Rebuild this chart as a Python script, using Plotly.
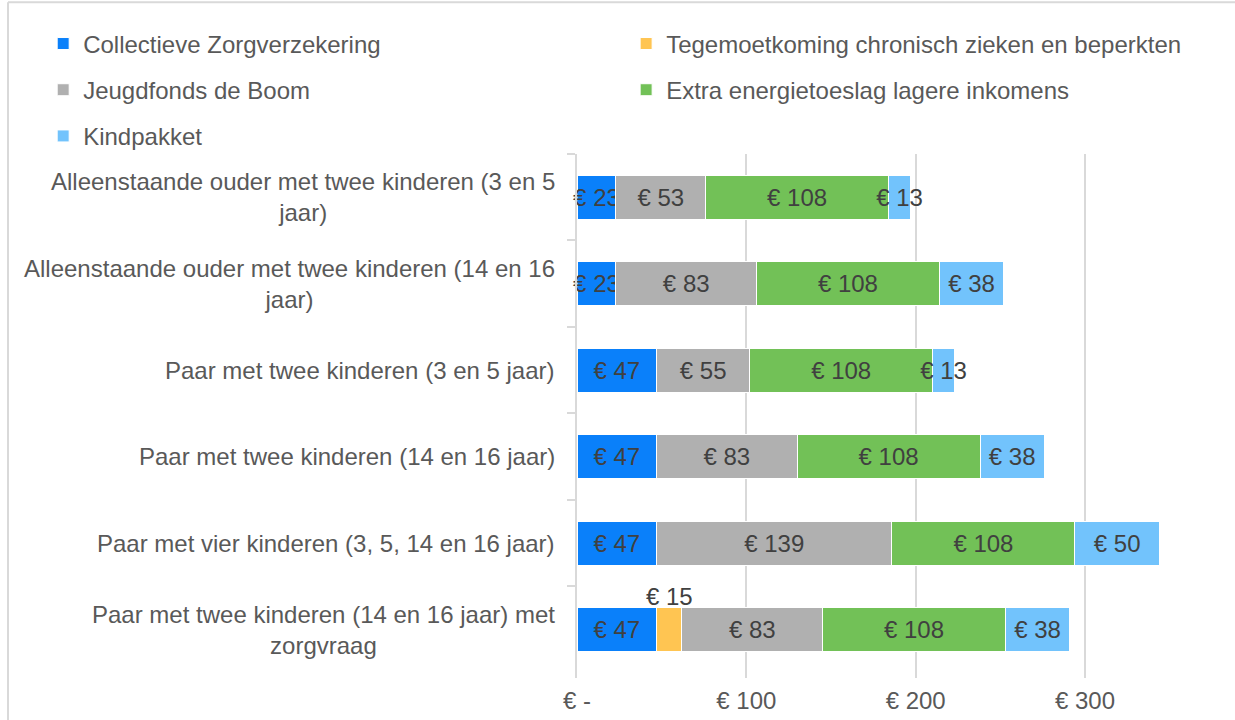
import plotly.graph_objects as go

categorieen = [
    "Alleenstaande ouder met twee kinderen (3 en 5<br>jaar)",
    "Alleenstaande ouder met twee kinderen (14 en 16<br>jaar)",
    "Paar met twee kinderen (3 en 5 jaar)",
    "Paar met twee kinderen (14 en 16 jaar)",
    "Paar met vier kinderen (3, 5, 14 en 16 jaar)",
    "Paar met twee kinderen (14 en 16 jaar) met<br>zorgvraag",
]
collectief = [23, 23, 47, 47, 47, 47]
tegemoetkoming = [None, None, None, None, None, 15]
jeugdfonds = [53, 83, 55, 83, 139, 83]
energietoeslag = [108, 108, 108, 108, 108, 108]
kindpakket = [13, 38, 13, 38, 50, 38]

tick_waarden = [0, 100, 200, 300]
tick_teksten = ["€ -", "€ 100", "€ 200", "€ 300"]

FONT = "Liberation Sans, Arial, sans-serif"
FS = 24

series = [
    ("Collectieve Zorgverzekering", collectief, "#0A80FA", "legend"),
    ("Tegemoetkoming chronisch zieken en beperkten", tegemoetkoming, "#FFC552", "legend2"),
    ("Jeugdfonds de Boom", jeugdfonds, "#B0B0B0", "legend"),
    ("Extra energietoeslag lagere inkomens", energietoeslag, "#72C157", "legend2"),
    ("Kindpakket", kindpakket, "#72C3FC", "legend"),
]

fig = go.Figure()
for naam, waarden, kleur, leg in series:
    toon_tekst = naam != "Tegemoetkoming chronisch zieken en beperkten"
    fig.add_trace(
        go.Bar(
            y=categorieen,
            x=waarden,
            name=naam,
            orientation="h",
            marker=dict(color=kleur, line=dict(color="white", width=1)),
            texttemplate="€ %{x}" if toon_tekst else "",
            textposition="inside",
            textangle=0,
            insidetextanchor="middle",
            constraintext="none",
            insidetextfont=dict(family=FONT, size=FS, color="#404040"),
            legend=leg,
            legendgroup=naam,
            cliponaxis=False,
        )
    )

# label of the yellow segment sits above the bar
for cat, c, t in zip(categorieen, collectief, tegemoetkoming):
    if t:
        fig.add_annotation(
            x=c + t / 2, y=cat, text=f"€ {t}", showarrow=False,
            yshift=33, font=dict(family=FONT, size=FS, color="#404040"),
        )

# category labels, centred lines, right anchored
for cat in categorieen:
    fig.add_annotation(
        x=0, y=cat, xref="paper", text=cat, showarrow=False,
        xanchor="right", align="center", xshift=-20,
        font=dict(family=FONT, size=FS, color="#595959"),
    )

fig.update_layout(
    width=1235,
    height=720,
    margin=dict(l=577, r=3, t=154, b=42),
    barmode="stack",
    bargap=0.49,
    plot_bgcolor="white",
    paper_bgcolor="white",
    font=dict(family=FONT, size=FS, color="#595959"),
    legend=dict(
        orientation="v", x=-0.815, xanchor="left", y=1.253, yanchor="top",
        tracegroupgap=12, font=dict(family=FONT, size=FS, color="#595959"),
        bgcolor="rgba(0,0,0,0)",
    ),
    legend2=dict(
        orientation="v", x=0.075, xanchor="left", y=1.253, yanchor="top",
        tracegroupgap=12, font=dict(family=FONT, size=FS, color="#595959"),
        bgcolor="rgba(0,0,0,0)",
    ),
    xaxis=dict(
        range=[0, 386.8],
        tickvals=tick_waarden,
        ticktext=tick_teksten,
        showgrid=True,
        gridcolor="#D9D9D9",
        gridwidth=2,
        zeroline=False,
        showline=False,
        ticks="",
        ticklabelstandoff=6,
        automargin=False,
        tickfont=dict(family=FONT, size=FS, color="#595959"),
    ),
    yaxis=dict(
        autorange="reversed",
        showticklabels=False,
        showgrid=False,
        showline=True,
        linecolor="#D9D9D9",
        linewidth=2,
        ticks="outside",
        tickson="boundaries",
        ticklen=8,
        tickcolor="#D9D9D9",
        tickwidth=2,
        automargin=False,
    ),
    shapes=[
        dict(type="line", xref="paper", yref="paper",
             x0=(8 - 577) / 655, x1=(8 - 577) / 655, y0=1.2896, y1=-0.2,
             line=dict(color="#D9D9D9", width=2)),
        dict(type="line", xref="paper", yref="paper",
             x0=(8 - 577) / 655, x1=1.01, y0=1.2896, y1=1.2896,
             line=dict(color="#D9D9D9", width=2)),
    ],
)

fig.write_html(
    "out.html",
    config={"displayModeBar": False},
    post_script="document.body.style.margin='0';",
)
